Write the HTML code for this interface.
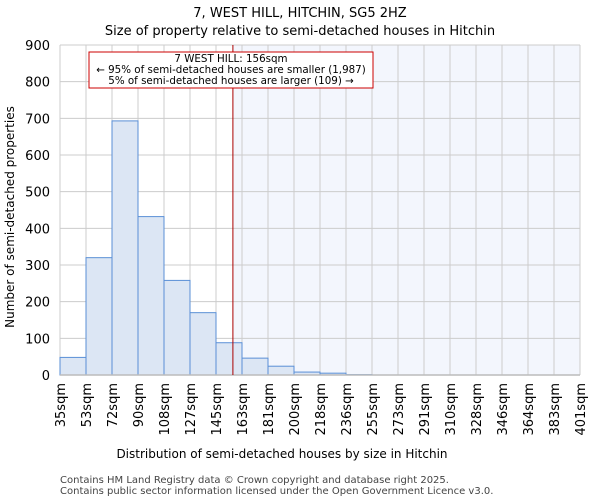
<!DOCTYPE html>
<html><head><meta charset="utf-8"><style>body{margin:0;background:#fff;font-family:"DejaVu Sans","Liberation Sans",sans-serif}</style></head>
<body>
<svg id="chart" width="600" height="500" xmlns="http://www.w3.org/2000/svg" font-family="DejaVu Sans, Liberation Sans, sans-serif">
<text x="300" y="17" text-anchor="middle" font-size="13">7, WEST HILL, HITCHIN, SG5 2HZ</text>
<text x="300" y="35" text-anchor="middle" font-size="13">Size of property relative to semi-detached houses in Hitchin</text>
<g id="plot"></g>
<text x="282" y="458" text-anchor="middle" font-size="12">Distribution of semi-detached houses by size in Hitchin</text>
<text transform="translate(14,217) rotate(-90)" text-anchor="middle" font-size="12">Number of semi-detached properties</text>
<text x="60" y="483" font-size="10" fill="#444">Contains HM Land Registry data © Crown copyright and database right 2025.</text>
<text x="60" y="494" font-size="10" fill="#444">Contains public sector information licensed under the Open Government Licence v3.0.</text>
</svg>
<script>
const binLabels=["35sqm","53sqm","72sqm","90sqm","108sqm","127sqm","145sqm","163sqm","181sqm","200sqm","218sqm","236sqm","255sqm","273sqm","291sqm","310sqm","328sqm","346sqm","364sqm","383sqm","401sqm"];
const counts=[48,320,693,432,258,170,88,46,24,8,5,1,0,0,0,0,0,0,0,0];
const yTicks=[0,100,200,300,400,500,600,700,800,900];
const subjectIndex=6.65;
const NS="http://www.w3.org/2000/svg";
const g=document.getElementById('plot');
const L=60,R=580,T=45,B=375,yMax=900;
const bw=(R-L)/counts.length;
const x=i=>L+i*bw;
const y=v=>B-(v/yMax)*(B-T);
function mk(t,a){const e=document.createElementNS(NS,t);for(const k in a)e.setAttribute(k,a[k]);g.appendChild(e);return e;}
const mx=x(subjectIndex);
let e=mk('rect',{x:mx,y:T,width:R-mx,height:B-T,fill:'#f3f6fd'});


yTicks.forEach(t=>{
 let l=mk('line',{x1:L,x2:R,y1:y(t),y2:y(t),stroke:'#ccc','stroke-width':1});
 
 
 let tx=mk('text',{x:L-10,y:y(t)+5,'text-anchor':'end','font-size':13});
 tx.textContent=t;
 
 
});
binLabels.forEach((lb,i)=>{
 let l=mk('line',{x1:x(i),x2:x(i),y1:T,y2:B,stroke:'#ccc','stroke-width':1});
 
 
 let tx=mk('text',{transform:`translate(${x(i)+5},${B+8}) rotate(-90)`,'text-anchor':'end','font-size':13});
 tx.textContent=lb;
 
 
});
counts.forEach((c,i)=>{
 if(c<=0)return;
 let r=mk('rect',{x:x(i),y:y(c),width:bw,height:B-y(c),fill:'#dce6f4',stroke:'#5a8fd6','stroke-width':1});
 
 
});
e=mk('line',{x1:L,x2:R,y1:B,y2:B,stroke:'#bbb','stroke-width':1.5});


e=mk('line',{x1:mx,x2:mx,y1:T,y2:B,stroke:'#a00','stroke-width':1});


e=mk('rect',{x:89,y:52,width:284,height:36,fill:'#fff',stroke:'#c00','stroke-width':1});


[["7 WEST HILL: 156sqm",62],["← 95% of semi-detached houses are smaller (1,987)",73],["5% of semi-detached houses are larger (109) →",84]].forEach(([s,yy])=>{
 let t=mk('text',{x:231,y:yy,'text-anchor':'middle','font-size':10.3});
 t.textContent=s;
 
 
});
</script>
</body></html>
